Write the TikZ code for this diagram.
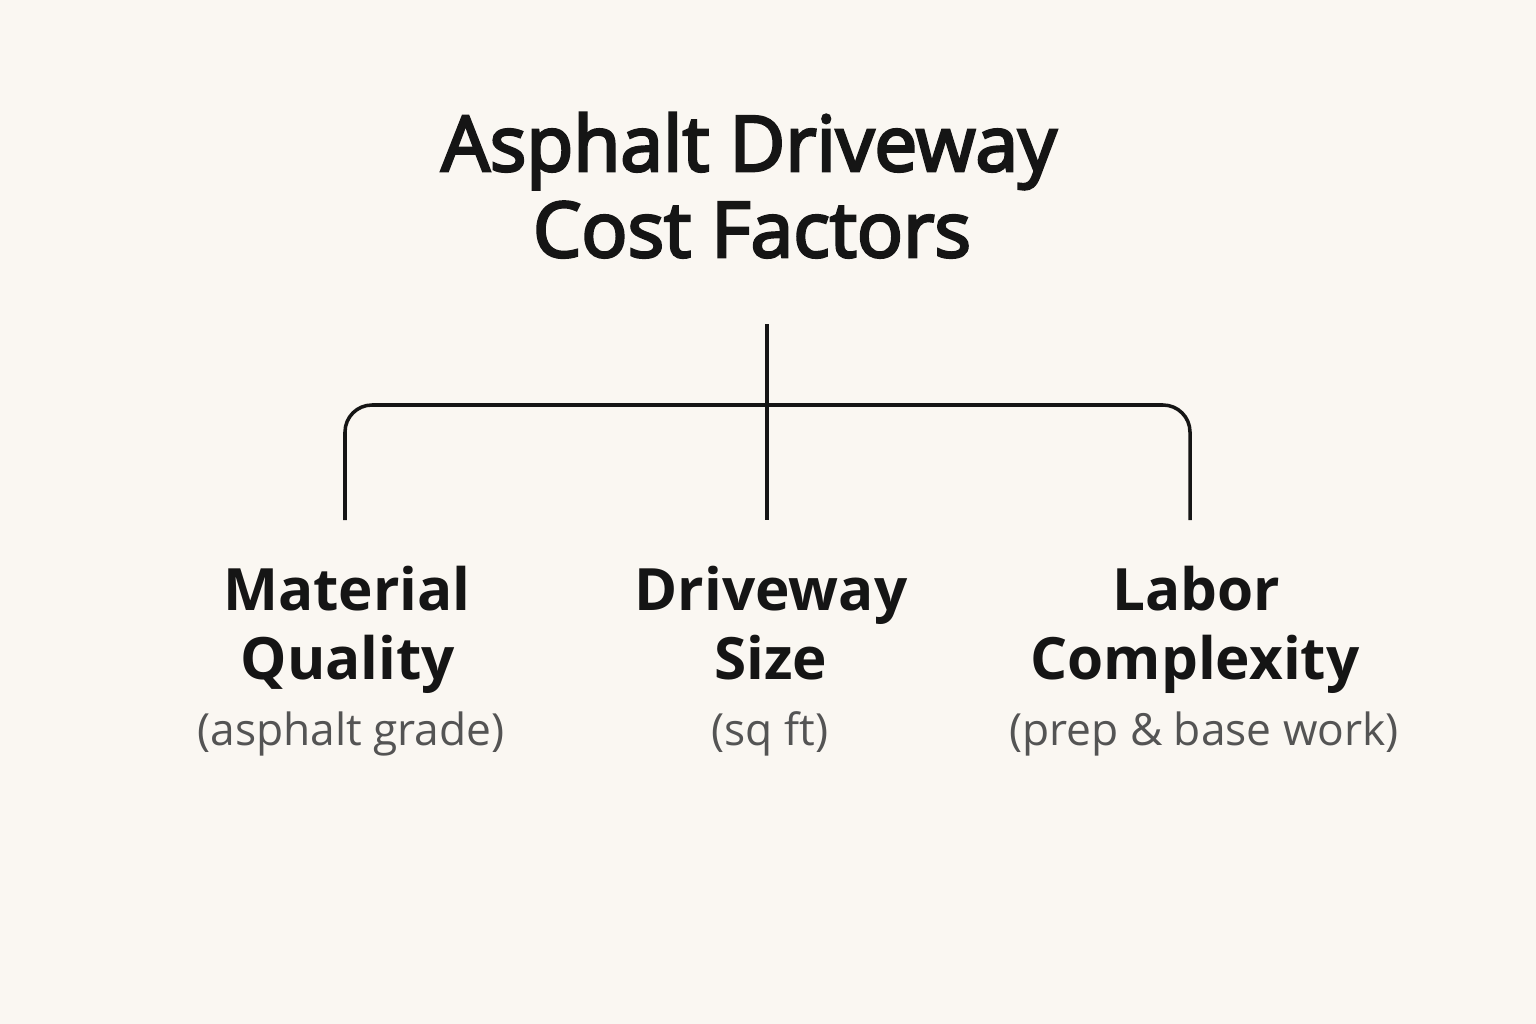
\documentclass[tikz,border=0pt]{standalone}
\usepackage{fontspec}
\setmainfont{Open Sans}
\newfontfamily\headfont[FakeBold=3.5]{Open Sans}
\usepackage{tikz}
\usetikzlibrary{positioning}

\definecolor{paper}{HTML}{FAF7F2}
\definecolor{ink}{HTML}{151515}
\definecolor{subink}{HTML}{545454}

\tikzset{
  titletext/.style={font=\headfont\fontsize{21.8}{26}\selectfont, text=ink, anchor=base, inner sep=0pt},
  factortext/.style={font=\bfseries\fontsize{16.6}{20}\selectfont, text=ink, anchor=base, inner sep=0pt},
  subtext/.style={font=\fontsize{12.6}{15}\selectfont, text=subink, anchor=base, inner sep=0pt},
  link/.style={draw=ink, line width=1pt}
}

\begin{document}
\begin{tikzpicture}[x=0.01cm, y=-0.01cm]
\fill[paper] (0,0) rectangle (1536,1024);
\useasboundingbox (0,0) rectangle (1536,1024);

% title
\node[titletext] (title1) at (749,171) {Asphalt Driveway};
\node[titletext] (title2) at (752,257) {Cost Factors};

% factors
\node[factortext] (mat1) at (347,610) {Material};
\node[factortext] (mat2) at (348,679) {Quality};
\node[subtext]    (matsub) at (351,745) {(asphalt grade)};

\node[factortext] (size1) at (771,610) {Driveway};
\node[factortext] (size2) at (771,679) {Size};
\node[subtext]    (sizesub) at (770,745) {(sq ft)};

\node[factortext] (lab1) at (1196,610) {Labor};
\node[factortext] (lab2) at (1195,679) {Complexity};
\node[subtext]    (labsub) at (1204,745) {(prep \& base work)};

% connectors
\coordinate (root) at (767,324);
\coordinate (hub) at (767,405);
\coordinate (matend) at (345,520);
\coordinate (sizeend) at (767,520);
\coordinate (labend) at (1190,520);

\draw[link] (root) -- (sizeend);
\draw[link, rounded corners=2.7mm] (matend) -- (matend |- hub) -- (labend |- hub) -- (labend);
\end{tikzpicture}
\end{document}
